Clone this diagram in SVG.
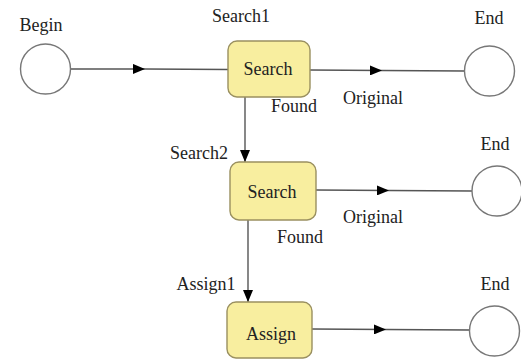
<svg xmlns="http://www.w3.org/2000/svg" width="521" height="360" viewBox="0 0 521 360" font-family="'Liberation Serif','DejaVu Serif',serif">
<style>
text{font-family:'Liberation Serif','DejaVu Serif',serif;font-size:18px;fill:#222;text-anchor:middle}
.ev{fill:#fff;stroke:#777;stroke-width:1.4}
.task{fill:#f8ee9f;stroke:#9a9060;stroke-width:1.4}
.flow{fill:none;stroke:#555;stroke-width:1.4}
.mid{marker-mid:url(#arr)}
.end{marker-end:url(#arr)}
</style>
<defs>
<marker id="arr" viewBox="0 0 12 10" refX="12" refY="5" markerWidth="12" markerHeight="10" markerUnits="userSpaceOnUse" orient="auto">
<path d="M0,0 L12,5 L0,10 Z" fill="#000"/>
</marker>
</defs>
<g id="connectors">
<path class="flow mid" d="M71,69 L145,69 L228,69.5"/>
<path class="flow mid" d="M310,70 L382,70.5 L464,71"/>
<path class="flow end" d="M245,97 L245,162"/>
<path class="flow mid" d="M316,190 L389,190.5 L472,191"/>
<path class="flow end" d="M248,220 L248,302"/>
<path class="flow mid" d="M312,329 L386,329.5 L469,330"/>
</g>
<g id="begin"><circle class="ev" cx="45.5" cy="69" r="25"/><text x="41" y="31">Begin</text></g>
<g id="search1"><rect class="task" x="228" y="41" width="82" height="56" rx="9"/><text x="241" y="22">Search1</text><text x="268" y="75">Search</text></g>
<g id="end1"><circle class="ev" cx="489.5" cy="71" r="25"/><text x="489" y="24">End</text></g>
<g id="search2"><rect class="task" x="230" y="162" width="86" height="58" rx="9"/><text x="199" y="159">Search2</text><text x="272" y="198">Search</text></g>
<g id="end2"><circle class="ev" cx="497" cy="191" r="25"/><text x="495" y="150">End</text></g>
<g id="assign1"><rect class="task" x="227" y="302" width="85" height="56" rx="9"/><text x="206" y="290">Assign1</text><text x="271" y="340">Assign</text></g>
<g id="end3"><circle class="ev" cx="494.5" cy="331" r="25"/><text x="495" y="290">End</text></g>
<g id="labels">
<text x="294" y="112">Found</text>
<text x="373" y="104">Original</text>
<text x="373" y="223">Original</text>
<text x="300" y="243">Found</text>
</g>
</svg>
